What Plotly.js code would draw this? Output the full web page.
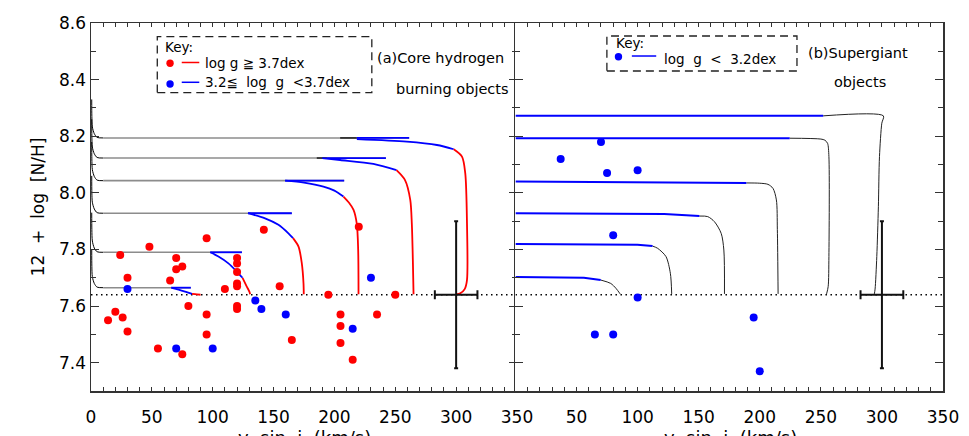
<!DOCTYPE html>
<html>
<head>
<meta charset="utf-8">
<script src="https://cdn.plot.ly/plotly-3.0.1.min.js"></script>
<style>html,body{margin:0;padding:0;background:#fff}#chart{width:969px;height:436px}</style>
</head>
<body>
<div id="chart"></div>
<script>
// ---------- Panel (a): observed stars ----------
const redV = [14, 20, 26, 30, 24, 30, 48, 55, 65, 70, 70, 75, 75, 80, 95, 95, 95, 110, 120, 120, 120, 120, 120, 120, 120, 142, 155, 165, 220, 195, 250, 205, 205, 205, 235, 215];
const redN = [7.55, 7.58, 7.56, 7.51, 7.78, 7.70, 7.81, 7.45, 7.69, 7.77, 7.73, 7.74, 7.43, 7.60, 7.84, 7.57, 7.50, 7.66, 7.77, 7.75, 7.72, 7.68, 7.67, 7.60, 7.59, 7.87, 7.67, 7.48, 7.88, 7.64, 7.64, 7.57, 7.53, 7.47, 7.57, 7.41];
const blueAV = [30, 70, 100, 135, 140, 160, 215, 230];
const blueAN = [7.66, 7.45, 7.45, 7.62, 7.59, 7.57, 7.52, 7.70];
// ---------- Panel (b): observed stars ----------
const blueBV = [70, 37, 75, 100, 80, 100, 65, 80, 195, 200];
const blueBN = [8.18, 8.12, 8.07, 8.08, 7.85, 7.63, 7.50, 7.50, 7.56, 7.37];

// baseline and typical error
const baseV = [0, 350];
const baseN = [7.64, 7.64];
const errV = [300], errN = [7.64], errDV = [17.5], errDN = [0.26];

// axis ticks and titles
const xTickVals = [0, 50, 100, 150, 200, 250, 300, 350];
const x2TickVals = [50, 100, 150, 200, 250, 300, 350];
const xTitle = 'v  sin  i  (km/s)';
const yTitle = '12  +  log  [N/H]';

// ---------- Panel (a) evolutionary tracks (6 models) ----------
const plateauN = [7.665, 7.79, 7.928, 8.043, 8.123, 8.194];
const plateauStartV = [10, 10, 10, 10, 10, 10];
const plateauEndV = [82, 124, 165, 208, 242.3, 261.4];
const blueStraightStartV = [66, 98, 129, 159.5, 193.8, 218.4];
const blueStraightEndV = [82, 124, 165, 208, 242.3, 261.4];
const darkStartV = [null, null, null, null, 185.5, 204.7];
const darkEndV = [null, null, null, null, 193.8, 218.4];
const redTrackV = [
  [83, 87, 90],
  [124.5, 128, 130.2, 130.7],
  [166, 170.5, 173.2, 174.6, 174.8],
  [207.4, 212, 215.7, 218.4, 219.5, 219.8],
  [251, 258, 262.3, 263.6, 264.5, 265],
  [298, 304.8, 307.5, 308.9, 308.9, 307, 303.4, 300]
];
const redTrackN = [
  [7.643, 7.641, 7.640],
  [7.70, 7.669, 7.65, 7.642],
  [7.84, 7.81, 7.751, 7.68, 7.642],
  [7.987, 7.965, 7.94, 7.89, 7.80, 7.642],
  [8.08, 8.045, 7.975, 7.89, 7.75, 7.642],
  [8.154, 8.128, 8.069, 7.893, 7.692, 7.66, 7.645, 7.641]
];
const blueTrackV = [
  [66, 72, 78, 83],
  [98, 104.7, 112.9, 119.8, 124.5],
  [129, 143, 154, 162.2, 166],
  [159.5, 175, 191, 200, 207.4],
  [190, 204.7, 232, 251],
  [218.4, 259.5, 284.2, 298]
];
const blueTrackN = [
  [7.665, 7.658, 7.650, 7.643],
  [7.79, 7.775, 7.751, 7.722, 7.70],
  [7.928, 7.91, 7.887, 7.857, 7.84],
  [8.043, 8.036, 8.022, 8.008, 7.987],
  [8.123, 8.116, 8.102, 8.08],
  [8.19, 8.181, 8.169, 8.154]
];
const lowV = [10, 5, 2.7, 1.1, 0.7, 0.6];
const lowN = [
  [7.665, 7.667, 7.68, 7.704, 7.74, 7.80],
  [7.79, 7.792, 7.805, 7.83, 7.87, 7.93],
  [7.928, 7.93, 7.943, 7.967, 8.0, 8.06],
  [8.043, 8.045, 8.058, 8.082, 8.12, 8.18],
  [8.123, 8.125, 8.138, 8.162, 8.2, 8.26],
  [8.194, 8.196, 8.209, 8.233, 8.27, 8.33]
];

// ---------- Panel (b) evolutionary tracks (6 models) ----------
const sgBlueV = [
  [0, 251.9],
  [0, 224.5],
  [0, 189],
  [0, 121.8, 150.6],
  [0, 99.9, 112.2],
  [0, 56, 69.8]
];
const sgBlueN = [
  [8.272, 8.272],
  [8.193, 8.193],
  [8.04, 8.035],
  [7.928, 7.925, 7.918],
  [7.819, 7.817, 7.812],
  [7.703, 7.70, 7.692]
];
const sgBlackV = [
  [251.9, 301.2, 299.9, 298, 297.1, 295.8, 294.4, 293.8],
  [224.5, 250, 253.3, 255.5, 256.6, 256.6, 256, 254.7],
  [189, 200, 206.7, 210.8, 213.6, 214.4, 215],
  [150.6, 157.4, 162.9, 168.4, 170.6, 171.1],
  [112.2, 116.4, 123.2, 126.8, 127.9],
  [69.8, 78, 82.2, 85.7]
];
const sgBlackN = [
  [8.272, 8.272, 8.246, 8.128, 7.951, 7.775, 7.66, 7.643],
  [8.193, 8.19, 8.186, 8.175, 8.128, 7.775, 7.669, 7.643],
  [8.035, 8.034, 8.03, 8.016, 7.975, 7.87, 7.643],
  [7.918, 7.916, 7.898, 7.857, 7.798, 7.643],
  [7.812, 7.804, 7.775, 7.716, 7.643],
  [7.692, 7.68, 7.663, 7.643]
];

// ---------- build traces ----------
const RED = '#ff0000', BLUE = '#0000ff', GREY = '#8c8c8c', BLACK = '#000000';
const traces = [];
function line(xs, ys, color, width, panel, smooth) {
  traces.push({
    x: xs, y: ys, type: 'scatter', mode: 'lines', hoverinfo: 'skip',
    xaxis: panel === 2 ? 'x2' : 'x', yaxis: panel === 2 ? 'y2' : 'y',
    line: {color: color, width: width, shape: smooth ? 'spline' : 'linear', smoothing: 0.8}
  });
}
[1, 2].forEach(p => traces.push({
  x: baseV, y: baseN, type: 'scatter', mode: 'lines', hoverinfo: 'skip',
  xaxis: p === 2 ? 'x2' : 'x', yaxis: p === 2 ? 'y2' : 'y',
  line: {color: BLACK, width: 1.5, dash: '1.5px,3.5px'}
}));
for (let i = 0; i < plateauN.length; i++) {
  const L = plateauN[i];
  line(lowV, lowN[i], BLACK, 1, 1, true);
  line([plateauStartV[i], plateauEndV[i]], [L, L], GREY, 1.6, 1, false);
  if (darkStartV[i] !== null) line([darkStartV[i], darkEndV[i]], [L, L], '#222', 1.6, 1, false);
  line([blueStraightStartV[i], blueStraightEndV[i]], [L, L], BLUE, 1.8, 1, false);
  line(blueTrackV[i], blueTrackN[i], BLUE, 1.8, 1, true);
  line(redTrackV[i], redTrackN[i], RED, 1.8, 1, true);
}
for (let i = 0; i < sgBlueV.length; i++) {
  line(sgBlackV[i], sgBlackN[i], '#222', 1, 2, true);
  line(sgBlueV[i], sgBlueN[i], BLUE, 2, 2, false);
}
[1, 2].forEach(p => traces.push({
  x: errV, y: errN, type: 'scatter', mode: 'markers', hoverinfo: 'skip',
  xaxis: p === 2 ? 'x2' : 'x', yaxis: p === 2 ? 'y2' : 'y',
  marker: {size: 1, color: 'rgba(0,0,0,0)'},
  error_x: {type: 'data', array: errDV, color: '#111', thickness: 2, width: 4.5},
  error_y: {type: 'data', array: errDN, color: '#111', thickness: 2, width: 2}
}));
function pts(xs, ys, color, panel) {
  traces.push({
    x: xs, y: ys, type: 'scatter', mode: 'markers', hoverinfo: 'skip',
    xaxis: panel === 2 ? 'x2' : 'x', yaxis: panel === 2 ? 'y2' : 'y',
    marker: {size: 8, color: color, line: {width: 0}}
  });
}
pts(redV, redN, RED, 1);
pts(blueAV, blueAN, BLUE, 1);
pts(blueBV, blueBN, BLUE, 2);

// ---------- axes ----------
const AX = '#333';
function xAxis(domain, anchor, tickvals) {
  return {
    domain: domain, anchor: anchor, range: [0, 350], tickvals: tickvals,
    ticks: 'inside', ticklen: 4, tickwidth: 1, tickcolor: AX,
    showline: true, linecolor: AX, linewidth: 1.5, mirror: 'ticks',
    showgrid: false, zeroline: false,
    minor: {dtick: 10, tick0: 0, ticks: 'inside', ticklen: 4, tickwidth: 1, tickcolor: AX, showgrid: false},
    tickfont: {size: 17, color: '#000'}, ticklabelstandoff: 10
  };
}
function yAxis(anchor, showLabels) {
  return {
    anchor: anchor, range: [7.3, 8.6], dtick: 0.2, tick0: 7.4, tickformat: '.1f',
    ticks: 'inside', ticklen: 8, tickwidth: 1, tickcolor: AX,
    showline: true, linecolor: AX, linewidth: 1.5, mirror: 'ticks',
    showgrid: false, zeroline: false, showticklabels: showLabels,
    minor: {dtick: 0.1, tick0: 7.3, ticks: 'inside', ticklen: 5, tickwidth: 1, tickcolor: AX, showgrid: false},
    tickfont: {size: 17, color: '#000'}
  };
}
const yA = yAxis('x', true);
yA.title = {text: yTitle, font: {size: 17, color: '#000'}, standoff: 10};
const yB = yAxis('x2', false);
yB.matches = 'y';

// ---------- keys and labels (paper coordinates) ----------
const F = {family: 'DejaVu Sans', color: '#000'};
const shapes = [
  {type: 'rect', xref: 'paper', yref: 'paper', x0: 0.0778, x1: 0.3296, y0: 0.8106, y1: 0.9628,
   line: {color: '#222', width: 1.3, dash: '8px,5px'}},
  {type: 'rect', xref: 'paper', yref: 'paper', x0: 0.6055, x1: 0.8286, y0: 0.8696, y1: 0.9647,
   line: {color: '#222', width: 1.3, dash: '8px,5px'}},
  {type: 'line', xref: 'paper', yref: 'paper', x0: 0.1065, x1: 0.1271, y0: 0.8927, y1: 0.8927, line: {color: RED, width: 1.5}},
  {type: 'line', xref: 'paper', yref: 'paper', x0: 0.1065, x1: 0.1271, y0: 0.8389, y1: 0.8389, line: {color: BLUE, width: 1.5}},
  {type: 'line', xref: 'paper', yref: 'paper', x0: 0.6348, x1: 0.6634, y0: 0.9103, y1: 0.9103, line: {color: BLUE, width: 1.5}},
  {type: 'circle', xref: 'paper', yref: 'paper', xsizemode: 'pixel', ysizemode: 'pixel',
   xanchor: 0.0928, yanchor: 0.8905, x0: -3.7, x1: 3.7, y0: -3.7, y1: 3.7, fillcolor: RED, line: {width: 0}},
  {type: 'circle', xref: 'paper', yref: 'paper', xsizemode: 'pixel', ysizemode: 'pixel',
   xanchor: 0.0928, yanchor: 0.8342, x0: -3.7, x1: 3.7, y0: -3.7, y1: 3.7, fillcolor: BLUE, line: {width: 0}},
  {type: 'circle', xref: 'paper', yref: 'paper', xsizemode: 'pixel', ysizemode: 'pixel',
   xanchor: 0.6191, yanchor: 0.9084, x0: -3.7, x1: 3.7, y0: -3.7, y1: 3.7, fillcolor: BLUE, line: {width: 0}}
];
function note(text, x, y, size, xa, ya) {
  return {text: text, xref: 'paper', yref: 'paper', x: x, y: y, xanchor: xa || 'left', yanchor: ya || 'middle',
          showarrow: false, font: Object.assign({size: size}, F), bgcolor: 'rgba(0,0,0,0)'};
}
const annotations = [
  note('Key:', 0.0849, 0.9356, 13.5),
  note('log g \u2267 3.7dex', 0.1319, 0.8905, 13.5),
  note('3.2\u2266  log  g  <3.7dex', 0.1319, 0.8410, 13.5),
  note('Key:', 0.6133, 0.9448, 13.5),
  note('log  g  <  3.2dex', 0.6701, 0.9035, 13.5),
  note('(a)Core hydrogen', 0.3330, 0.9041, 14.5),
  note('burning objects', 0.3560, 0.8198, 14.5),
  note('(b)Supergiant', 0.8390, 0.9177, 14.5),
  note('objects', 0.8700, 0.8405, 14.5),
  // x-axis titles of both panels (partly below the picture edge, as in the source)
  note(xTitle, 0.25, -0.0924, 18, 'center', 'top'),
  note(xTitle, 0.75, -0.0924, 18, 'center', 'top')
];

const layout = {
  width: 969, height: 436,
  margin: {l: 91, r: 26, t: 23, b: 45, pad: 0},
  paper_bgcolor: '#fff', plot_bgcolor: '#fff',
  showlegend: false,
  font: {family: 'DejaVu Sans', size: 17, color: '#000'},
  xaxis: xAxis([0, 0.5], 'y', xTickVals),
  xaxis2: xAxis([0.4982, 1], 'y2', x2TickVals),
  yaxis: yA,
  yaxis2: yB,
  shapes: shapes,
  annotations: annotations
};
Plotly.newPlot('chart', traces, layout, {staticPlot: true, displayModeBar: false});
</script>
</body>
</html>
